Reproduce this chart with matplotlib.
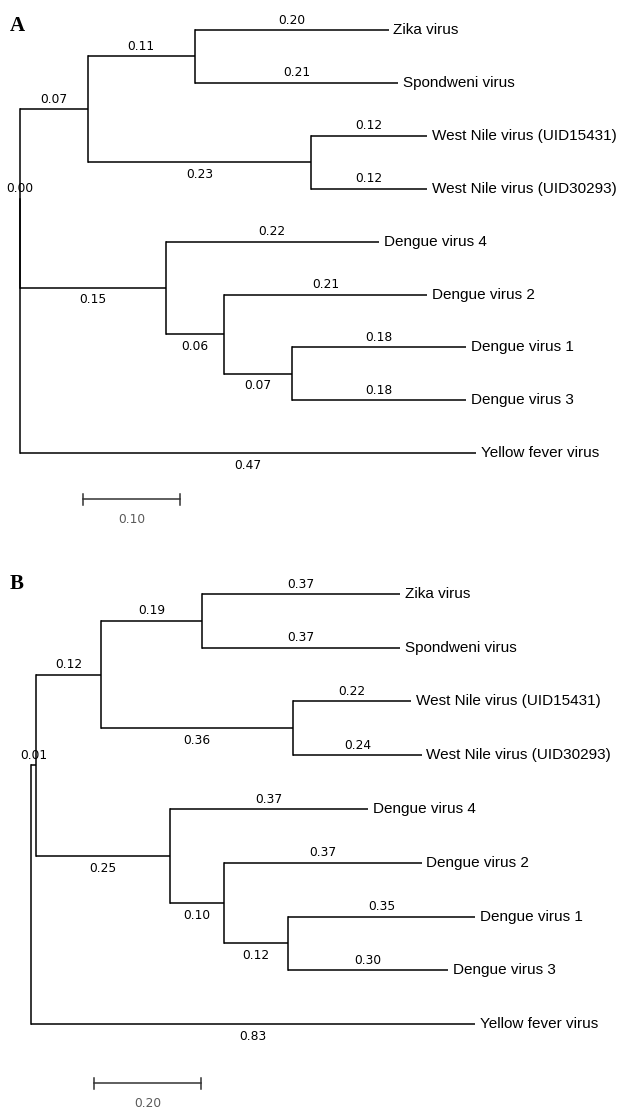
import matplotlib.pyplot as plt

# tree topology (same for both panels)
nodes = ["root", "n0", "flavi", "zs", "zika", "spond", "wnv", "wnv1", "wnv2",
         "den", "d4", "dx", "d2", "d13", "d1", "d3", "yf"]
parents = [None, "root", "n0", "flavi", "zs", "zs", "flavi", "wnv", "wnv",
           "n0", "den", "den", "dx", "dx", "d13", "d13", "root"]

tip_names = {
    "zika": "Zika virus",
    "spond": "Spondweni virus",
    "wnv1": "West Nile virus (UID15431)",
    "wnv2": "West Nile virus (UID30293)",
    "d4": "Dengue virus 4",
    "d2": "Dengue virus 2",
    "d1": "Dengue virus 1",
    "d3": "Dengue virus 3",
    "yf": "Yellow fever virus",
}

# branch lengths, same order as nodes
lengths_a = [0, 0.00, 0.07, 0.11, 0.20, 0.21, 0.23, 0.12, 0.12,
             0.15, 0.22, 0.06, 0.21, 0.07, 0.18, 0.18, 0.47]
lengths_b = [0, 0.01, 0.12, 0.19, 0.37, 0.37, 0.36, 0.22, 0.24,
             0.25, 0.37, 0.10, 0.37, 0.12, 0.35, 0.30, 0.83]

# branch labels written under the branch instead of above
below = {"wnv", "den", "dx", "d13", "yf"}

plt.rcParams["font.family"] = "DejaVu Sans"


def layout(lengths):
    children = {n: [] for n in nodes}
    for n, p in zip(nodes, parents):
        if p is not None:
            children[p].append(n)
    blen = dict(zip(nodes, lengths))
    xs, ys = {}, {}
    leaf_count = [0]

    def walk(n, x0):
        xs[n] = x0 + blen[n]
        if not children[n]:
            ys[n] = leaf_count[0]
            leaf_count[0] += 1
        else:
            for c in children[n]:
                walk(c, xs[n])
            ys[n] = (ys[children[n][0]] + ys[children[n][-1]]) / 2
    walk("root", 0.0)
    return children, blen, xs, ys


def draw_tree(ax, lengths, bar_len, bar_x, bar_y):
    children, blen, xs, ys = layout(lengths)
    for n, p in zip(nodes, parents):
        if p is None:
            continue
        # horizontal branch
        ax.plot([xs[p], xs[n]], [ys[n], ys[n]], color="black", lw=1.1,
                solid_capstyle="butt")
        mid = (xs[p] + xs[n]) / 2
        if n in below:
            ax.annotate(f"{blen[n]:.2f}", (mid, ys[n]), xytext=(0, -4),
                        textcoords="offset points", ha="center", va="top",
                        fontsize=8.8)
        else:
            ax.annotate(f"{blen[n]:.2f}", (mid, ys[n]), xytext=(0, 2.5),
                        textcoords="offset points", ha="center", va="bottom",
                        fontsize=8.8)
        if n in tip_names:
            ax.annotate(tip_names[n], (xs[n], ys[n]), xytext=(3.5, 0),
                        textcoords="offset points", ha="left", va="center",
                        fontsize=11, family="Liberation Sans")
    # vertical connectors
    for n in nodes:
        if children[n]:
            ax.plot([xs[n], xs[n]],
                    [ys[children[n][0]], ys[children[n][-1]]],
                    color="black", lw=1.1)
    # scale bar
    ax.plot([bar_x, bar_x + bar_len], [bar_y, bar_y], color="#333333", lw=1.1)
    for xe in (bar_x, bar_x + bar_len):
        ax.plot([xe, xe], [bar_y - 0.1, bar_y + 0.1], color="#333333", lw=1.1)
    ax.annotate(f"{bar_len:.2f}", (bar_x + bar_len / 2, bar_y), xytext=(0, -10),
                textcoords="offset points", ha="center", va="top",
                fontsize=8.8, color="#5a5a5a")


W, H = 632, 1109
fig = plt.figure(figsize=(W / 100, H / 100), dpi=100)

# panel A occupies pixel rows 0..555, panel B 555..1109
ax_a = fig.add_axes([0, 1 - 555 / H, 1, 555 / H])
ax_b = fig.add_axes([0, 0, 1, 554 / H])

draw_tree(ax_a, lengths_a, 0.10, 0.065, 8.87)
ax_a.set_xlim(-20 / 970, (W - 20) / 970)
ax_a.set_ylim((555 - 30) / 52.9, -30 / 52.9)

draw_tree(ax_b, lengths_b, 0.20, 0.118, 9.10)
ax_b.set_xlim(-31 / 535, (W - 31) / 535)
ax_b.set_ylim((1109 - 594) / 53.75, (555 - 594) / 53.75)

for ax in (ax_a, ax_b):
    ax.axis("off")

fig.text(10 / W, 1 - 26 / H, "A", fontsize=15, fontweight="bold",
         family="Liberation Serif", va="center")
fig.text(10 / W, 1 - 584 / H, "B", fontsize=15, fontweight="bold",
         family="Liberation Serif", va="center")

fig.savefig("out.png", dpi=100)
